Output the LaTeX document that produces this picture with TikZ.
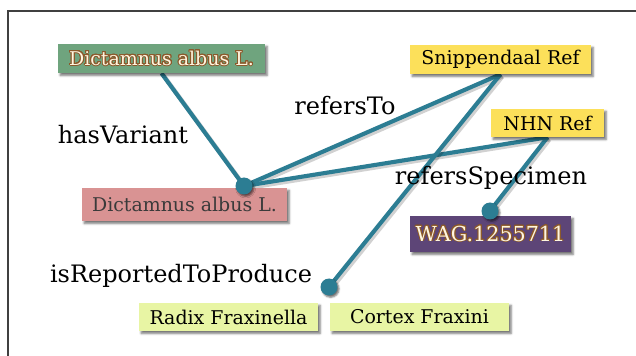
\documentclass[tikz,border=0pt]{standalone}
\usepackage{fontspec}
\usepackage{contour}
\usetikzlibrary{shadows.blur}
\newfontfamily\tw{DejaVu Serif}
\contourlength{0.7pt}
\contournumber{28}

\definecolor{linkteal}{HTML}{2C7D93}
\definecolor{boxgreen}{HTML}{6FA47E}
\definecolor{boxyellow}{HTML}{FCE05A}
\definecolor{boxpink}{HTML}{D99393}
\definecolor{boxpurple}{HTML}{5D4577}
\definecolor{boxlime}{HTML}{E8F5A4}
\definecolor{cream}{HTML}{FFF6E0}
\definecolor{rimbrown}{HTML}{8C5A2C}
\definecolor{inkgray}{HTML}{3A3A3A}

\pgfdeclarelayer{bg}
\pgfdeclarelayer{fg}
\pgfsetlayers{bg,main,fg}

\tikzset{
  sz/.style 2 args={minimum width=#1*0.75pt, minimum height=#2*0.75pt},
  box/.style={rectangle, inner sep=0pt, fill=#1,
    blur shadow={shadow xshift=1.6pt, shadow yshift=-1.8pt,
      shadow blur radius=1.6pt, shadow opacity=55},
    font=\tw\fontsize{14.2}{16}\selectfont},
  rimmed/.style={text=cream},
  plain/.style={text=inkgray},
  dark/.style={text=black},
  relname/.style={anchor=base, text=black, font=\tw\fontsize{18}{20}\selectfont},
  dot/.style={circle, fill=linkteal, inner sep=0pt, minimum size=17*0.75pt,
    blur shadow={shadow xshift=1.2pt, shadow yshift=-1.4pt,
      shadow blur radius=1.2pt, shadow opacity=55}},
  link/.style={draw=linkteal, line width=3.1pt},
  linkshade/.style={draw=black, opacity=0.18, line width=3.4pt,
    transform canvas={xshift=1.4pt, yshift=-1.6pt}},
  frame/.style={draw=black!75, line width=1.1pt}
}

\begin{document}
\begin{tikzpicture}[x=0.75pt, y=-0.75pt]
\useasboundingbox (0,0) rectangle (636,356);
\draw[frame] (8,356) -- (8,11) -- (636,11);

% concept and reference boxes
\node[box=boxgreen, rimmed, sz={207}{29}] (green) at (161.5,58.5)
  {\contour{rimbrown}{Dictamnus albus L.}};
\node[box=boxyellow, dark, sz={181}{29}] (snip) at (500.5,59.5)
  {Snippendaal Ref};
\node[box=boxyellow, dark, sz={113}{28}] (nhn) at (547.5,123)
  {NHN Ref};
\node[box=boxpink, plain, sz={205}{33}] (pink) at (184.5,204.5)
  {Dictamnus albus L.};
\node[box=boxpurple, rimmed, sz={161}{36}, font=\tw\fontsize{15.5}{17}\selectfont]
  (wag) at (490.5,234) {\contour{rimbrown}{WAG.1255711}};
\node[box=boxlime, dark, sz={179}{28}] (radix) at (228.5,317)
  {Radix Fraxinella};
\node[box=boxlime, dark, sz={179}{28}] (cortex) at (419.5,317)
  {Cortex Fraxini};

% junction dots
\begin{pgfonlayer}{fg}
\node[dot] (d1) at (244,186) {};
\node[dot] (d2) at (490,211) {};
\node[dot] (d3) at (329,287) {};
\end{pgfonlayer}

% connectors
\begin{pgfonlayer}{bg}
\foreach \a/\b in {green.south/d1.center, snip.south/d1.center,
                   nhn.south/d1.center, snip.south/d3.center,
                   nhn.south/d2.center} {
  \path[linkshade] (\a) -- (\b);
  \path[link] (\a) -- (\b);
}
\end{pgfonlayer}

% relation names
\node[relname] (lhas) at (123,144) {hasVariant};
\node[relname] (lref) at (345,115) {refersTo};
\node[relname] (lspec) at (491,185) {refersSpecimen};
\node[relname] (lrep) at (181,282) {isReportedToProduce};
\end{tikzpicture}
\end{document}
